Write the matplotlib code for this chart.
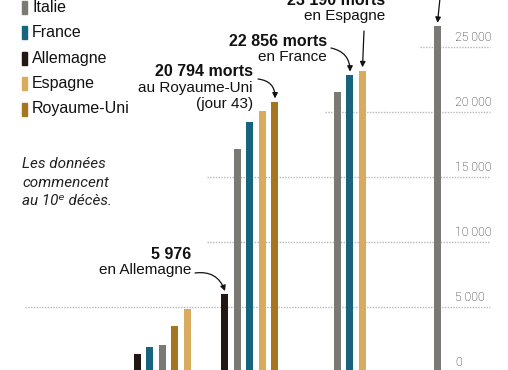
import matplotlib
matplotlib.use('Agg')
from matplotlib import pyplot as plt
from matplotlib.patches import Rectangle

# donnees (morts cumules)
pays = ['Allemagne', 'France', 'Italie', 'Royaume-Uni', 'Espagne',
        'Allemagne', 'Italie', 'France', 'Espagne', 'Royaume-Uni',
        'Italie', 'France', 'Espagne', 'Italie']
jours = [32, 33, 34, 35, 36, 39, 40, 41, 42, 43, 48, 49, 50, 56]
morts = [1380, 1920, 2080, 3540, 4850, 5976, 17150, 19230, 20080, 20794,
         21540, 22856, 23190, 26610]

legende = ['Italie', 'France', 'Allemagne', 'Espagne', 'Royaume-Uni']
couleurs = {'Italie': '#7b7974', 'France': '#17647f', 'Allemagne': '#221813',
            'Espagne': '#d9ab5f', 'Royaume-Uni': '#a67521'}
graduations = [0, 5000, 10000, 15000, 20000, 25000]
etiquettes = ['0', '5 000', '10 000', '15 000', '20 000', '25 000']

W, H = 508, 370
plt.rcParams['font.family'] = ['Liberation Sans', 'DejaVu Sans']

fig = plt.figure(figsize=(W / 100, H / 100), dpi=100)
ax = fig.add_axes([0, -2 / H, 1, 372 / H])
ax.set_xlim(21, 21 + W / 12.5)
ax.set_ylim(0, 372 / 13 * 1000)
ax.axis('off')


def px(x):
    return x / W


def py(y):
    return 1 - y / H


def dx(x):  # pixel -> jour
    return 21 + x / 12.5


# grille pointillee
debut = {5000: 25, 10000: 207, 15000: 207, 20000: 325, 25000: 420}
for g, x0 in debut.items():
    ax.hlines(g, dx(x0), dx(490), colors='#b8b8b8', lw=1,
              linestyles=(0, (1, 1)), zorder=0)

for g, lab in zip(graduations, etiquettes):
    ax.annotate(lab, xy=(dx(455), g), xytext=(0, 4), textcoords='offset points',
                va='baseline', ha='left', fontsize=8.8, color='#1a1a1a',
                family=['Roboto', 'DejaVu Sans'], fontweight='light')

# barres
ax.bar(jours, morts, width=0.56, color=[couleurs[p] for p in pays], zorder=2)

# legende
for i, nom in enumerate(legende):
    top = 0.5 + i * 25.5
    fig.patches.append(Rectangle((px(22), py(top + 13)), 5 / W, 13 / H,
                                 transform=fig.transFigure,
                                 color=couleurs[nom]))
    fig.text(px(32), py(11.5 + i * 25.5), nom, fontsize=11.5,
             va='baseline', ha='left', color='#111111')

# note
for txt, y in [('Les données', 168), ('commencent', 187),
               ('au 10ᵉ décès.', 205)]:
    fig.text(px(22), py(y), txt, fontsize=11, style='italic',
             family=['Roboto', 'DejaVu Sans'], fontweight='normal',
             va='baseline', ha='left', color='#222222')

# annotations
notes = [
    (191, [('5 976', 259, 'bold'), ('en Allemagne', 274, 'normal')]),
    (253, [('20 794 morts', 76, 'bold'), ('au Royaume-Uni', 92, 'normal'),
           ('(jour 43)', 108, 'normal')]),
    (327, [('22 856 morts', 46, 'bold'), ('en France', 61, 'normal')]),
    (385, [('23 190 morts', 5, 'bold'), ('en Espagne', 20, 'normal')]),
]
for xr, lignes in notes:
    for txt, y, w in lignes:
        fig.text(px(xr), py(y), txt, fontsize=11.5 if w == 'bold' else 11,
                 fontweight=w, va='baseline', ha='right', color='#111111')

fleche = dict(arrowstyle='-|>', color='#111111', lw=0.9, mutation_scale=8,
              shrinkA=0, shrinkB=0)
fleches = [
    (5, (195, 273), 'arc3,rad=-0.4'),
    (9, (258, 79), 'arc3,rad=-0.45'),
    (11, (331, 48), 'arc3,rad=-0.4'),
    (12, (364, 31), 'arc3,rad=0'),
    (13, (440, -2), 'arc3,rad=0'),
]
for k, (x0, y0), cs in fleches:
    ax.annotate('', xy=(jours[k], morts[k] + 250),
                xytext=(px(x0), py(y0)), textcoords='figure fraction',
                arrowprops=dict(fleche, connectionstyle=cs))

fig.savefig('out.png', dpi=100)
